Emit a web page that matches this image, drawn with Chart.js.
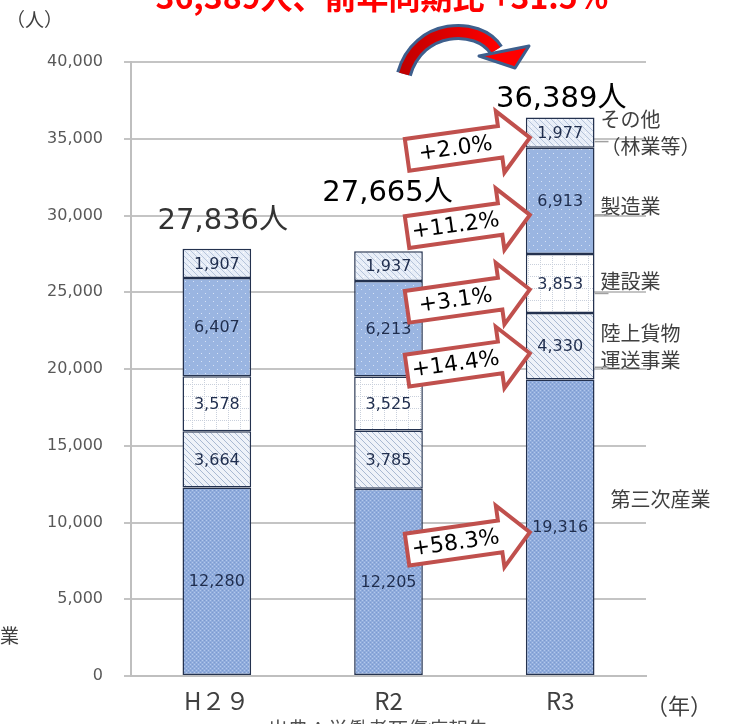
<!DOCTYPE html>
<html>
<head>
<meta charset="utf-8">
<script src="https://cdn.jsdelivr.net/npm/chart.js@4"></script>
<style>
  html, body { margin: 0; padding: 0; background: #fff; }
  #wrap { width: 741px; height: 724px; position: relative; }
</style>
</head>
<body>
<div id="wrap"><canvas id="barChart" width="741" height="724"></canvas></div>
<script>
const categories = ['H２９', 'R2', 'R3'];
const tertiary = [12280, 12205, 19316];
const freight = [3664, 3785, 4330];
const construction = [3578, 3525, 3853];
const manufacturing = [6407, 6213, 6913];
const others = [1907, 1937, 1977];
const totals = [27836, 27665, 36389];
const seriesNames = [['第三次産業'], ['陸上貨物', '運送事業'], ['建設業'], ['製造業'], ['その他', '（林業等）']];
const changeLabels = ['+58.3%', '+14.4%', '+3.1%', '+11.2%', '+2.0%'];
const yMax = 40000;
const yStep = 5000;

const JP = '"Noto Sans CJK JP", "Noto Sans", sans-serif';
const NUM = '"DejaVu Sans", "Noto Sans CJK JP", sans-serif';

function makePattern(w, h, draw) {
    const c = document.createElement('canvas');
    c.width = w;
    c.height = h;
    const g = c.getContext('2d');
    draw(g);
    return g.createPattern(c, 'repeat');
}

// dotted blue (第三次産業)
const patTertiary = makePattern(4, 4, g => {
    g.fillStyle = '#90acdc';
    g.fillRect(0, 0, 4, 4);
    g.fillStyle = '#7c9ad0';
    g.fillRect(0, 0, 1, 1);
    g.fillRect(2, 2, 1, 1);
    g.fillStyle = '#b3c8ec';
    g.fillRect(2, 0, 1, 1);
    g.fillRect(0, 2, 1, 1);
});
// diagonal hatch (陸上貨物運送事業)
const patFreight = makePattern(6, 6, g => {
    g.fillStyle = '#eef2f9';
    g.fillRect(0, 0, 6, 6);
    g.fillStyle = '#a9b9d2';
    for (let i = 0; i < 6; i++) g.fillRect(i, i, 1, 1);
});
// dashed grid (建設業)
const patConstruction = makePattern(12, 12, g => {
    g.fillStyle = '#ffffff';
    g.fillRect(0, 0, 12, 12);
    g.fillStyle = '#c9d0dc';
    for (let i = 0; i < 12; i += 2) g.fillRect(0, i, 1, 1);
    for (let i = 0; i < 12; i += 2) g.fillRect(i, 0, 1, 1);
});
// blue with white dots (製造業)
const patManufacturing = makePattern(8, 8, g => {
    g.fillStyle = '#9ab5e1';
    g.fillRect(0, 0, 8, 8);
    g.fillStyle = '#d6e2f5';
    g.fillRect(1, 1, 1, 1);
    g.fillRect(5, 5, 1, 1);
});
// light hatch (その他)
const patOthers = makePattern(6, 6, g => {
    g.fillStyle = '#e8eef8';
    g.fillRect(0, 0, 6, 6);
    g.fillStyle = '#b6c4da';
    for (let i = 0; i < 6; i++) g.fillRect(i, i, 1, 1);
    g.fillStyle = '#ffffff';
    g.fillRect(3, 0, 1, 1);
});

const barBorder = '#24324f';

function segment(label, data, pattern) {
    return {
        label: label,
        data: data,
        backgroundColor: pattern,
        borderColor: barBorder,
        borderWidth: 1.5,
        borderSkipped: false,
        categoryPercentage: 1,
        barPercentage: 0.4,
    };
}

function drawBlockArrow(ctx, tipX, tipY, angle, text) {
    const L = 124, H = 30, bh = 32, hh = 62;
    ctx.save();
    ctx.translate(tipX, tipY);
    ctx.rotate(angle);
    ctx.beginPath();
    ctx.moveTo(0, 0);
    ctx.lineTo(-H, -hh / 2);
    ctx.lineTo(-H, -bh / 2);
    ctx.lineTo(-L, -bh / 2);
    ctx.lineTo(-L, bh / 2);
    ctx.lineTo(-H, bh / 2);
    ctx.lineTo(-H, hh / 2);
    ctx.closePath();
    ctx.fillStyle = '#ffffff';
    ctx.fill();
    ctx.lineWidth = 4;
    ctx.lineJoin = 'miter';
    ctx.strokeStyle = '#c0504d';
    ctx.stroke();
    ctx.fillStyle = '#000000';
    ctx.font = '22px ' + NUM;
    ctx.textAlign = 'center';
    ctx.textBaseline = 'middle';
    ctx.fillText(text, -(L + H) / 2 + 2, 1);
    ctx.restore();
}

const annotations = {
    id: 'annotations',
    afterDatasetsDraw(chart) {
        const ctx = chart.ctx;
        const y = chart.scales.y;

        // values inside segments
        ctx.save();
        ctx.font = '16px ' + NUM;
        ctx.fillStyle = '#1f2d4d';
        ctx.textAlign = 'center';
        ctx.textBaseline = 'middle';
        chart.data.datasets.forEach((ds, di) => {
            chart.getDatasetMeta(di).data.forEach((bar, i) => {
                const mid = (bar.y + bar.base) / 2;
                ctx.fillText(ds.data[i].toLocaleString('en-US'), bar.x, mid + 1);
            });
        });
        ctx.restore();

        // totals above bars
        const totalOffsets = [[6, -27, '#333333'], [-1, -58, '#000000'], [1, -18, '#000000']];
        const topMeta = chart.getDatasetMeta(chart.data.datasets.length - 1);
        ctx.save();
        ctx.font = '29px ' + NUM;
        ctx.textAlign = 'center';
        ctx.textBaseline = 'middle';
        totals.forEach((t, i) => {
            const bar = topMeta.data[i];
            ctx.fillStyle = totalOffsets[i][2];
            ctx.fillText(t.toLocaleString('en-US') + '人', bar.x + totalOffsets[i][0], y.getPixelForValue(t) + totalOffsets[i][1]);
        });
        ctx.restore();

        // series names to the right of R3
        const r3 = categories.length - 1;
        const nameOffsets = [[10, -28], [0, -13], [0, -2], [0, 6], [0, -13]];
        ctx.save();
        ctx.font = '20px ' + JP;
        ctx.fillStyle = '#404040';
        ctx.textAlign = 'left';
        ctx.textBaseline = 'middle';
        chart.data.datasets.forEach((ds, di) => {
            const bar = chart.getDatasetMeta(di).data[r3];
            const x = bar.x + bar.width / 2 + 6 + nameOffsets[di][0];
            const mid = (bar.y + bar.base) / 2 + nameOffsets[di][1];
            seriesNames[di].forEach((line, k) => {
                ctx.fillText(line, x, mid + k * 27);
            });
        });
        // short leader lines
        ctx.strokeStyle = '#a0a0a0';
        ctx.lineWidth = 1.5;
        [[1, 21], [2, 10], [3, 14], [4, 9]].forEach(([di, dy]) => {
            const bar = chart.getDatasetMeta(di).data[r3];
            const x0 = bar.x + bar.width / 2;
            const ly = (bar.y + bar.base) / 2 + dy;
            ctx.beginPath();
            ctx.moveTo(x0, ly);
            ctx.lineTo(x0 + 14, ly);
            ctx.stroke();
        });
        ctx.restore();

        // change arrows pointing at R3 segments
        const tipDy = [5, 7, 6, 14, 5];
        chart.data.datasets.forEach((ds, di) => {
            const bar = chart.getDatasetMeta(di).data[r3];
            const mid = (bar.y + bar.base) / 2;
            drawBlockArrow(ctx, bar.x - bar.width / 2 + 4, mid + tipDy[di], -0.14, changeLabels[di]);
        });
    },
    afterDraw(chart) {
        const ctx = chart.ctx;
        ctx.save();
        // units
        ctx.font = '19px ' + JP;
        ctx.fillStyle = '#404040';
        ctx.textBaseline = 'middle';
        ctx.textAlign = 'left';
        ctx.fillText('（人）', 6, 20);
        ctx.font = '22px ' + JP;
        ctx.fillText('（年）', 646, 706);
        // cut-off neighbouring texts
        ctx.font = '19px ' + JP;
        ctx.textAlign = 'right';
        ctx.fillText('第三次産業', 19, 636);
        ctx.textAlign = 'center';
        ctx.font = '20px ' + JP;
        ctx.fillStyle = '#505050';
        ctx.fillText('出典：労働者死傷病報告', 378, 729);
        ctx.font = 'bold 32px ' + JP;
        ctx.fillStyle = '#ff0000';
        ctx.textBaseline = 'alphabetic';
        ctx.fillText('36,389人、前年同期比 +31.5%', 382, 9);

        // curved arrow at top
        ctx.lineCap = 'butt';
        ctx.beginPath();
        ctx.moveTo(404, 74);
        ctx.bezierCurveTo(418, 24, 478, 22, 496, 50);
        ctx.strokeStyle = '#3d5f8d';
        ctx.lineWidth = 16;
        ctx.stroke();
        const grad = ctx.createLinearGradient(400, 0, 500, 0);
        grad.addColorStop(0, '#c00000');
        grad.addColorStop(1, '#ff0000');
        ctx.strokeStyle = grad;
        ctx.lineWidth = 10;
        ctx.stroke();
        ctx.beginPath();
        ctx.moveTo(479, 56);
        ctx.lineTo(529, 46);
        ctx.lineTo(515, 68);
        ctx.closePath();
        ctx.fillStyle = '#ff0000';
        ctx.fill();
        ctx.lineWidth = 3;
        ctx.lineJoin = 'round';
        ctx.strokeStyle = '#3d5f8d';
        ctx.stroke();
        ctx.restore();
    }
};

const ctxBar = document.getElementById('barChart').getContext('2d');

const barChart = new Chart(ctxBar, {
    type: 'bar',
    data: {
        labels: categories,
        datasets: [
            segment(seriesNames[0].join(''), tertiary, patTertiary),
            segment(seriesNames[1].join(''), freight, patFreight),
            segment(seriesNames[2].join(''), construction, patConstruction),
            segment(seriesNames[3].join(''), manufacturing, patManufacturing),
            segment(seriesNames[4].join(''), others, patOthers),
        ]
    },
    options: {
        responsive: false,
        animation: false,
        devicePixelRatio: 1,
        layout: {
            padding: { left: 0, right: 95, top: 62, bottom: 0 }
        },
        plugins: {
            legend: { display: false },
            tooltip: { enabled: false },
        },
        scales: {
            x: {
                stacked: true,
                afterFit: s => { s.height = 48; },
                grid: { display: false, drawTicks: false },
                border: { color: '#bfbfbf', width: 2 },
                ticks: {
                    padding: 10,
                    color: '#404040',
                    font: { size: 24, family: JP }
                }
            },
            y: {
                stacked: true,
                min: 0,
                max: yMax,
                afterFit: s => { s.width = 131; },
                grid: { color: '#c4c4c4', lineWidth: 2, tickLength: 7 },
                border: { color: '#bfbfbf', width: 2 },
                ticks: {
                    stepSize: yStep,
                    padding: 21,
                    color: '#595959',
                    font: { size: 16, family: NUM },
                    callback: v => v.toLocaleString('en-US')
                }
            }
        }
    },
    plugins: [annotations]
});
</script>
</body>
</html>
